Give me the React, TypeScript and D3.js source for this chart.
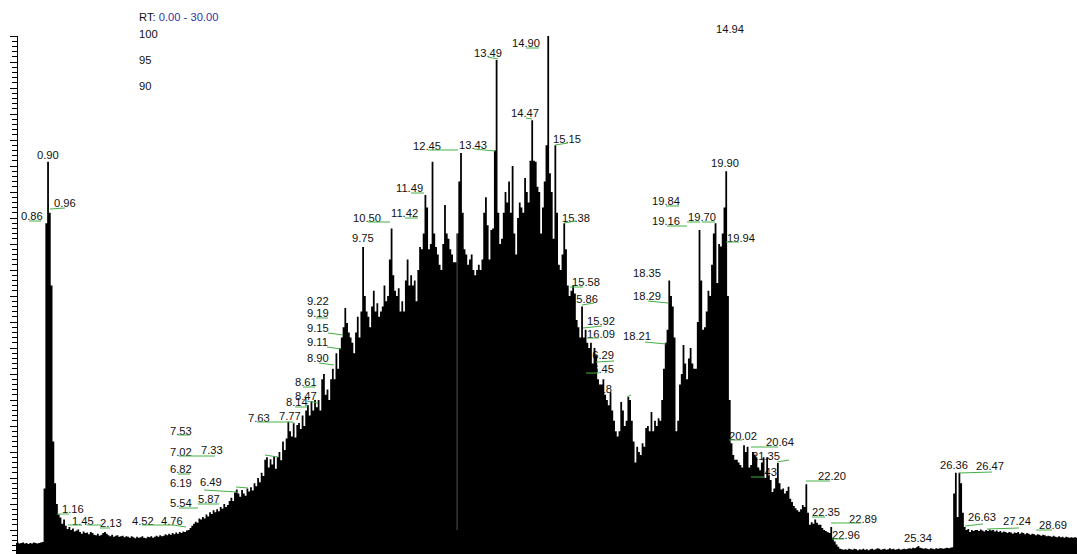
import React from "react";
import * as d3 from "d3";

const SCAN_STEP = 0.05;
const min00 = [2.5,2.6,2.4,2.5,2.6,2.4,2.5,2.3,2.5,2.4,2.6,2.5,2.4,2.5,2.6,2.7,13,64,75.8,66];
const min01 = [52,22,14,10,8,7.4,6.2,7,5.8,5.2,5.6,5,5.3,4.7,4.9,5.1,4.6,4.3,4.7,4.4];
const min02 = [4.5,4.2,4.6,4.4,4.1,4,4.3,3.9,4.1,4.4,4.6,4.3,4,3.8,4.1,3.7,3.9,4,3.7,3.8];
const min03 = [3.9,3.6,3.8,3.7,3.5,3.8,3.6,3.4,3.7,3.5,3.6,3.8,3.5,3.4,3.7,3.6,3.8,3.5,3.7,3.9];
const min04 = [3.7,4,3.8,3.9,4.2,4,4.3,4.1,4.4,4.2,4.5,4.3,4.6,4.4,4.7,4.6,4.9,5,5.4,5.8];
const min05 = [6.2,6.6,6.4,7.2,7,7.5,7.2,8,7.6,8.4,8.1,8.8,8.4,9,8.6,9.4,9.1,10,9.4,9.8];
const min06 = [10.6,11.2,10.6,12.2,12.8,12,11.4,12.7,12,11.6,13,12.4,13.2,12.6,14,13.4,15,14.2,16,15.4];
const min07 = [18.5,19,17,18.6,17.6,19.2,16.8,19,20,18.4,22,20.4,22.6,25.8,24,23,25.6,22.8,25.2,25.6];
const min08 = [24.4,27,25,28,29,27,29.8,28,30,28.6,30,28,34,35,31,32,30,34,36,34];
const min09 = [39,36,40,42,44,47.7,44.8,43,42,41,39,43,46,42,47,59.4,50,47,46,44];
const min10 = [48,51,47,48.6,46,47,48,52,49,50,57,63,54,51,50,51.5,47,49,47,53];
const min11 = [57,52,54,52,53,49,55,59.4,59,62,69.4,67,59,60,75.8,62,59.4,58,56,55];
const min12 = [60,67.5,62,61,59,58,56.5,56.5,62,72,77.5,66,59,58,56,57,58,55,54,55];
const min13 = [56,55,57,66,69,63.6,57,62.7,63,78,95.4,66,60,61,66,70,68,72,66,75];
const min14 = [62,58,65,68,67,66,72.7,70,68,76,83.8,76,75.8,71,70,62,67,72,79,100];
const min15 = [73.6,70,61,79,66,56,55,58,64,59,52,50,51,52,50.5,45.4,44,42,48,42];
const min16 = [43.5,41,40,41,37,40,38.6,34,33,33,34,31,30,29,31.5,28,26,24,23,24];
const min17 = [29.6,28,25,26,30.6,30,26,22,18,21,20,19.4,21.7,21,24.6,25,24,27.7,24,26];
const min18 = [25,26.5,26,30,36,41,43.5,53,50,48,42,24,26,33,35,40.6,37,34,38,40];
const min19 = [37,36,36,45,62.7,53,43.5,44,47,51,50,56,62,64,52.5,60,59.5,62,67,74];
const min20 = [50,30,21.7,19.4,18.5,18.5,18,17.5,17,21.3,20,21,17,17.5,20,19.5,19,17,16.5,18];
const min21 = [19,15,19,15.5,14.6,12.3,13,15,17.9,14,12.8,13,12,12.5,13.3,11,10.4,9.6,9.2,8.8];
const min22 = [8.5,9,9.8,9.4,13.8,8.3,6,6.5,6.2,7,6.4,6,6,5.4,5,4.8,4.6,4.4,5.6,3.5];
const min23 = [2.8,2.2,1.8,1.4,1.3,1.2,1.3,1.2,1.4,1.3,1.2,1.4,1.3,1.1,1.3,1.2,1.4,1.2,1.3,1.1];
const min24 = [1.3,1.4,1.2,1.3,1.5,1.4,1.2,1.3,1.4,1.2,1.3,1.5,1.3,1.4,1.2,1.3,1.4,1.2,1.3,1.4];
const min25 = [1.3,1.4,1.5,1.4,1.6,1.5,1.7,1.9,1.6,1.5,1.4,1.5,1.4,1.3,1.5,1.4,1.3,1.5,1.4,1.5];
const min26 = [1.5,1.4,1.5,1.6,1.5,1.6,1.7,12,16,7.5,16,14,8.3,5.6,5,5.2,4.6,5,4.8,5];
const min27 = [5,4.8,5.1,4.9,4.7,5,4.8,5.1,4.9,5,4.7,4.9,4.6,4.8,4.5,4.7,4.6,4.4,4.6,4.5];
const min28 = [4.3,4.5,4.4,4.6,4.3,4.5,4.4,4.2,4.4,4.3,4.1,4.3,4.2,4,4.2,4.1,3.9,4.1,4,3.8];
const min29 = [3.9,3.8,3.7,3.9,3.7,3.6,3.8,3.6,3.7,3.5,3.7,3.6,3.5,3.6,3.5,3.6,3.5,3.4,3.5,3.4,3.5];

const intensities = [min00,min01,min02,min03,min04,min05,min06,min07,min08,min09,min10,min11,min12,min13,min14,min15,min16,min17,min18,min19,min20,min21,min22,min23,min24,min25,min26,min27,min28,min29].flat();

const axisLabels = ["100", "95", "90"];
const dropouts = [{ rt: 12.39, from: 5, to: 62 }];

const peakLabels = ["14.94","0.90","0.86","0.96","1.16","1.45","2.13","4.52","4.76","5.54","5.87","6.19","6.49","6.82","7.02","7.33","7.53","7.63","7.77","8.14","8.47","8.61","8.90","9.11","9.15","9.19","9.22","9.75","10.50","11.42","11.49","12.45","13.43","13.49","14.47","14.90","15.15","15.38","15.58","15.86","15.92","16.09","16.29","16.45","17.18","18.21","18.29","18.35","19.16","19.84","19.70","19.90","19.94","20.02","20.64","21.35","21.43","22.20","22.35","22.89","22.96","25.34","26.36","26.47","26.63","27.24","28.69"];
const labelXY = [[716,33],[37,159],[21,220],[54,207],[62,513],[72,525],[100,527],[132,525],[161,525],[170,507],[198,503],[170,487],[200,486],[170,473],[170,456],[201,454],[170,435],[248,422],[279,420],[286,406],[295,400],[295,386],[307,362],[307,346],[307,332],[307,317],[307,305],[352,242],[353,222],[391,217],[396,192],[413,150],[459,149],[474,57],[511,117],[512,47],[553,143],[562,222],[572,286],[570,303],[587,325],[587,338],[586,359],[586,373],[584,393],[623,340],[633,300],[633,277],[652,225],[652,205],[688,221],[711,167],[727,242],[729,440],[766,446],[752,460],[749,476],[818,480],[812,516],[849,523],[832,539],[904,542],[940,469],[976,470],[968,521],[1003,525],[1039,529]];
const leaders = [[29,221,41,221],[50,209,65,208],[57,514,69,514],[68,525,82,525],[87,525,101,525],[100,528,110,528],[142,525,173,525],[173,525,186,527],[179,508,198,508],[198,504,219,504],[204,490,237,492],[236,487,248,488],[178,474,190,474],[179,456,215,456],[265,455,278,457],[178,435,190,435],[257,422,293,422],[293,422,294,424],[295,407,307,407],[307,401,318,403],[303,387,315,387],[319,363,334,365],[327,347,341,349],[328,333,343,335],[316,318,328,318],[368,222,390,222],[405,218,418,218],[411,193,424,193],[428,150,458,150],[474,149,495,151],[488,57,498,59],[526,118,532,119],[526,48,539,48],[555,145,568,143],[564,223,576,221],[570,287,583,287],[582,305,594,303],[583,328,602,326],[587,338,599,338],[596,362,614,361],[586,373,599,373],[627,397,631,395],[645,342,666,344],[648,301,668,303],[667,226,687,226],[666,206,679,206],[687,222,700,222],[702,222,715,222],[726,242,739,242],[729,440,742,440],[751,447,778,447],[777,462,789,460],[751,477,764,477],[806,481,830,481],[812,517,825,517],[831,523,861,523],[832,539,844,539],[959,473,992,472],[965,526,983,524],[987,529,1019,528],[1036,530,1052,530]];

const W = 1077;
const H = 554;
const FONT = "'Liberation Sans', Arial, sans-serif";

export default function App() {
  const x = d3.scaleLinear().domain([0, 30]).range([16, 1084]);
  const y = d3.scaleLinear().domain([0, 100]).range([556, 36]);
  const area = d3
    .area<number>()
    .x((_, i) => x(i * SCAN_STEP))
    .y0(y(0))
    .y1((d) => y(d))
    .curve(d3.curveStep);
  const ticks = d3.range(0, 101);

  return (
    <svg width={W} height={H} viewBox={`0 0 ${W} ${H}`} style={{ position: "absolute", left: 0, top: 0, background: "#fff" }} fontFamily={FONT}>
      <g fontSize={11.2} fill="#111">
        {peakLabels.map((t, i) => (
          <text key={t} x={labelXY[i][0]} y={labelXY[i][1]}>{t}</text>
        ))}
        {axisLabels.map((t) => (
          <text key={t} x={139} y={y(+t) + 2}>{t}</text>
        ))}
        <text x={139} y={21}>
          RT: <tspan fill="#3333aa">0.00 - 30.00</tspan>
        </text>
      </g>
      <path d={area(intensities) ?? ""} fill="#000" />
      {dropouts.map((d) => (
        <line key={d.rt} x1={x(d.rt)} x2={x(d.rt)} y1={y(d.from)} y2={y(d.to)} stroke="#555" strokeWidth={1} />
      ))}
      <g stroke="#000" shapeRendering="crispEdges">
        <line x1={17} x2={17} y1={y(100)} y2={H} strokeWidth={1} />
        {ticks.map((t) => (
          <line key={t} x1={t % 5 === 0 ? 10 : 12} x2={17} y1={y(t)} y2={y(t)} strokeWidth={1} />
        ))}
      </g>
      <g stroke="#44b044" strokeWidth={1}>
        {leaders.map((l, i) => (
          <line key={i} x1={l[0]} y1={l[1]} x2={l[2]} y2={l[3]} />
        ))}
      </g>
    </svg>
  );
}
